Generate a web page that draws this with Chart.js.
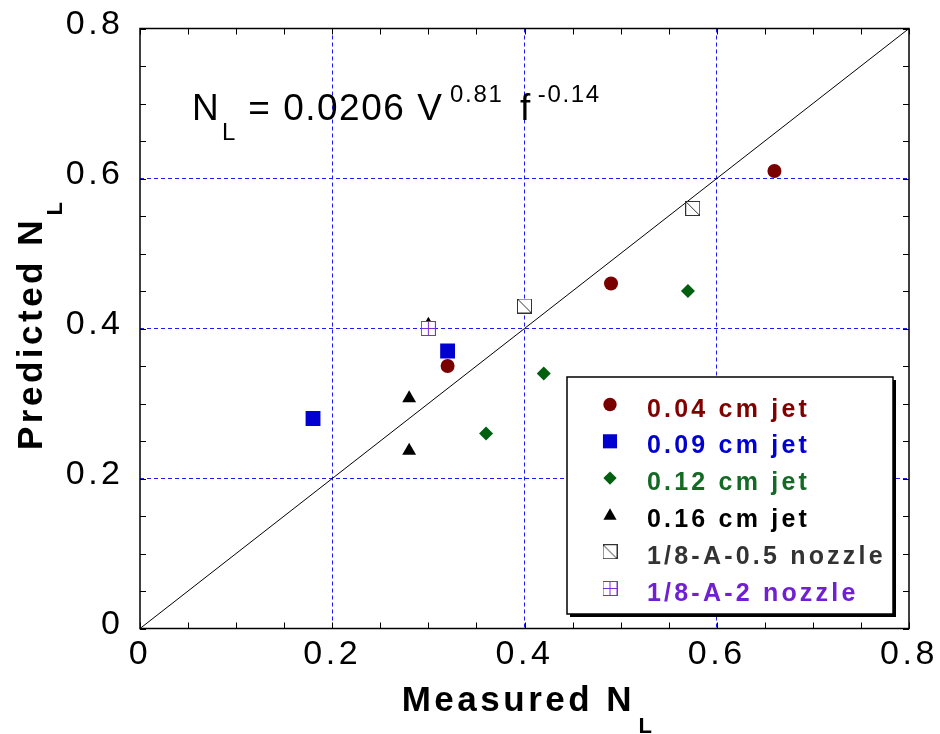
<!DOCTYPE html>
<html>
<head>
<meta charset="utf-8">
<script src="https://cdn.jsdelivr.net/npm/chart.js"></script>
<style>
  html, body { margin: 0; padding: 0; background: #fff; }
  #wrap { width: 940px; height: 734px; }
</style>
</head>
<body>
<div id="wrap"><canvas id="c" width="940" height="734"></canvas></div>
<script>
const FONT = '"Liberation Sans", Arial, Helvetica, sans-serif';

// Measured vs predicted N_L, one pair of arrays per jet / nozzle
const jet004Measured = [0.32, 0.49, 0.66];
const jet004Predicted = [0.35, 0.46, 0.61];
const jet009Measured = [0.18, 0.32];
const jet009Predicted = [0.28, 0.37];
const jet012Measured = [0.36, 0.42, 0.57];
const jet012Predicted = [0.26, 0.34, 0.45];
const jet016Measured = [0.28, 0.28, 0.30];
const jet016Predicted = [0.307, 0.237, 0.405];
const nozzleHalfMeasured = [0.40, 0.575];
const nozzleHalfPredicted = [0.43, 0.56];
const nozzleTwoMeasured = [0.30];
const nozzleTwoPredicted = [0.40];

// 1:1 parity line
const parityX = [0, 0.8];
const parityY = [0, 0.8];

const seriesNames = ['0.04 cm jet', '0.09 cm jet', '0.12 cm jet', '0.16 cm jet',
                     '1/8-A-0.5 nozzle', '1/8-A-2 nozzle'];
const seriesTextColors = ['#800000', '#0000d0', '#146a24', '#000000', '#333333', '#7020d0'];

// axis range and tick spacing
const axisMin = 0, axisMax = 0.8, minorStep = 0.05, majorStep = 0.2;

const pairs = (xs, ys) => xs.map((v, i) => ({ x: v, y: ys[i] }));
const isMajor = v => Math.abs(v / majorStep - Math.round(v / majorStep)) < 1e-6;
const isInnerMajor = v => isMajor(v) && v > axisMin + 1e-6 && v < axisMax - 1e-6;

// open-square glyphs used as point styles
function boxGlyph(color, kind) {
  const c = document.createElement('canvas');
  c.width = 15; c.height = 15;
  const g = c.getContext('2d');
  g.fillStyle = '#fff';
  g.fillRect(0, 0, 15, 15);
  g.strokeStyle = color;
  g.lineWidth = 1;
  g.strokeRect(0.5, 0.5, 14, 14);
  g.beginPath();
  if (kind === 'slash') {
    g.moveTo(0.5, 0.5); g.lineTo(14.5, 14.5);
  } else {
    g.moveTo(7.5, 0.5); g.lineTo(7.5, 14.5);
    g.moveTo(0.5, 7.5); g.lineTo(14.5, 7.5);
  }
  g.stroke();
  return c;
}
const slashBox = boxGlyph('#333333', 'slash');
const plusBox = boxGlyph('#7a30d8', 'plus');

const scatterBase = { type: 'scatter', pointBorderWidth: 0, showLine: false };

const datasets = [
  Object.assign({}, scatterBase, { label: seriesNames[0], data: pairs(jet004Measured, jet004Predicted),
    pointStyle: 'circle', pointRadius: 7, backgroundColor: '#7a0000', borderColor: '#7a0000', order: 2 }),
  Object.assign({}, scatterBase, { label: seriesNames[1], data: pairs(jet009Measured, jet009Predicted),
    pointStyle: 'rect', pointRadius: 10.5, backgroundColor: '#0000d0', borderColor: '#0000d0', order: 2 }),
  Object.assign({}, scatterBase, { label: seriesNames[2], data: pairs(jet012Measured, jet012Predicted),
    pointStyle: 'rectRot', pointRadius: 7, backgroundColor: '#006010', borderColor: '#006010', order: 2 }),
  Object.assign({}, scatterBase, { label: seriesNames[3], data: pairs(jet016Measured, jet016Predicted),
    pointStyle: 'triangle', pointRadius: 8, backgroundColor: '#000000', borderColor: '#000000', order: 3 }),
  Object.assign({}, scatterBase, { label: seriesNames[4], data: pairs(nozzleHalfMeasured, nozzleHalfPredicted),
    pointStyle: slashBox, pointRadius: 8, backgroundColor: '#fff', borderColor: '#333', order: 1 }),
  Object.assign({}, scatterBase, { label: seriesNames[5], data: pairs(nozzleTwoMeasured, nozzleTwoPredicted),
    pointStyle: plusBox, pointRadius: 8, backgroundColor: '#fff', borderColor: '#7a30d8', order: 1 }),
  { type: 'line', label: 'parity', data: pairs(parityX, parityY), borderColor: '#000', borderWidth: 1,
    pointRadius: 0, fill: false, order: 10 }
];

const tickFont = { family: FONT, size: 34 };

function axisCommon() {
  return {
    type: 'linear', min: axisMin, max: axisMax,
    border: { display: false, dash: [4, 3] },
    grid: {
      drawTicks: false,
      lineWidth: 1,
      color: c => (c.tick && isInnerMajor(c.tick.value)) ? '#1a1aff' : 'rgba(0,0,0,0)'
    },
    ticks: {
      stepSize: minorStep, maxTicksLimit: 40, autoSkip: false, color: '#000', font: tickFont,
      callback: v => isMajor(v) ? (Math.abs(v) < 1e-9 ? '0' : v.toFixed(1)) : ''
    }
  };
}

function zeroPadding(s) {
  s.paddingTop = 0; s.paddingBottom = 0; s.paddingLeft = 0; s.paddingRight = 0;
}

const xAxis = axisCommon();
xAxis.position = 'bottom';
xAxis.ticks.padding = 6;
xAxis.ticks.maxRotation = 0;
xAxis.afterFit = s => { s.height = 105.5; zeroPadding(s); };

const yAxis = axisCommon();
yAxis.position = 'left';
yAxis.ticks.padding = 16.5;
yAxis.ticks.labelOffset = -4;
yAxis.afterFit = s => { s.width = 140; zeroPadding(s); };

// wide tracking for the axis numbers
const trackingPlugin = {
  id: 'tracking',
  beforeDraw(chart) { chart.ctx.letterSpacing = '3.5px'; },
  afterDraw(chart) { chart.ctx.letterSpacing = '0px'; }
};

// plot frame with inward ticks on all four sides
const framePlugin = {
  id: 'frame',
  beforeDatasetsDraw(chart) {
    const { ctx, chartArea: a, scales: { x, y } } = chart;
    ctx.save();
    ctx.strokeStyle = '#000';
    ctx.lineWidth = 1;
    ctx.beginPath();
    x.ticks.forEach(t => {
      const px = Math.round(x.getPixelForValue(t.value)) + 0.5;
      ctx.moveTo(px, a.bottom); ctx.lineTo(px, a.bottom - 6);
      ctx.moveTo(px, a.top); ctx.lineTo(px, a.top + 6);
    });
    y.ticks.forEach(t => {
      const py = Math.round(y.getPixelForValue(t.value)) + 0.5;
      ctx.moveTo(a.left, py); ctx.lineTo(a.left + 6, py);
      ctx.moveTo(a.right, py); ctx.lineTo(a.right - 6, py);
    });
    ctx.stroke();
    ctx.lineWidth = 1.5;
    ctx.strokeRect(a.left, a.top, a.right - a.left, a.bottom - a.top);
    ctx.restore();
  }
};

// letter-spaced text, drawn glyph by glyph; returns the inked width
function txt(ctx, s, x, y, size, weight, spacing, color) {
  ctx.font = (weight ? weight + ' ' : '') + size + 'px ' + FONT;
  ctx.letterSpacing = '0px';
  ctx.fillStyle = color || '#000';
  let cx = x;
  for (const ch of s) {
    ctx.fillText(ch, cx, y);
    cx += ctx.measureText(ch).width + spacing;
  }
  return cx - x - spacing;
}

// axis titles, fitted equation and the boxed legend
const annotationPlugin = {
  id: 'annotations',
  afterDraw(chart) {
    const { ctx, chartArea: a } = chart;
    ctx.save();
    ctx.textAlign = 'left';
    ctx.textBaseline = 'alphabetic';

    // y title (rotated)
    ctx.save();
    ctx.translate(41.7, a.top + 421.5);
    ctx.rotate(-Math.PI / 2);
    const wy = txt(ctx, 'Predicted N', 0, 0, 35, 'bold', 3.5);
    txt(ctx, 'L', wy + 5, 20.5, 22, 'bold', 0);
    ctx.restore();

    // x title
    const wx = txt(ctx, 'Measured N', a.left + 261.7, 710.7, 35, 'bold', 3.5);
    txt(ctx, 'L', a.left + 261.7 + wx + 7, 732.5, 22, 'bold', 0);

    // fitted correlation
    const ex = a.left, ey = a.top;
    txt(ctx, 'N', ex + 52, ey + 91.5, 37, '', 0);
    txt(ctx, 'L', ex + 82, ey + 111.5, 24, '', 0);
    txt(ctx, '= 0.0206 V', ex + 108.3, ey + 91.5, 37, '', 1.5);
    txt(ctx, '0.81', ex + 310, ey + 73.5, 24, '', 1.7);
    txt(ctx, 'f', ex + 380, ey + 91.5, 37, '', 0);
    txt(ctx, '-0.14', ex + 397.7, ey + 73.5, 24, '', 1.7);

    // legend box with shadow
    const bx = a.right - 342, by = a.top + 348.5, bw = 326, bh = 237;
    ctx.fillStyle = '#000';
    ctx.fillRect(bx + 3, by + 3, bw, bh);
    ctx.fillStyle = '#fff';
    ctx.fillRect(bx, by, bw, bh);
    ctx.strokeStyle = '#000';
    ctx.lineWidth = 1.5;
    ctx.strokeRect(bx, by, bw, bh);

    const draw = Chart.helpers && Chart.helpers.drawPoint;
    for (let i = 0; i < seriesNames.length; i++) {
      const ds = chart.data.datasets[i];
      const base = by + 39.5 + i * 36.8;
      const my = base - 12;
      if (draw) {
        ctx.save();
        ctx.fillStyle = ds.backgroundColor;
        ctx.strokeStyle = ds.borderColor;
        ctx.lineWidth = 0;
        draw(ctx, { pointStyle: ds.pointStyle, rotation: 0, radius: ds.pointRadius * 0.95, borderWidth: 0 },
             bx + 43, i === 3 ? my + 1 : my);
        ctx.restore();
      }
      txt(ctx, seriesNames[i], bx + 80, base, 25, 'bold', 3.2, seriesTextColors[i]);
    }
    ctx.restore();
  }
};

new Chart(document.getElementById('c'), {
  type: 'scatter',
  data: { datasets },
  options: {
    responsive: false,
    animation: false,
    events: [],
    layout: { padding: { left: 0, right: 31, top: 28.5, bottom: 0 }, autoPadding: false },
    plugins: { legend: { display: false }, tooltip: { enabled: false }, title: { display: false } },
    scales: { x: xAxis, y: yAxis }
  },
  plugins: [trackingPlugin, framePlugin, annotationPlugin]
});
</script>
</body>
</html>
